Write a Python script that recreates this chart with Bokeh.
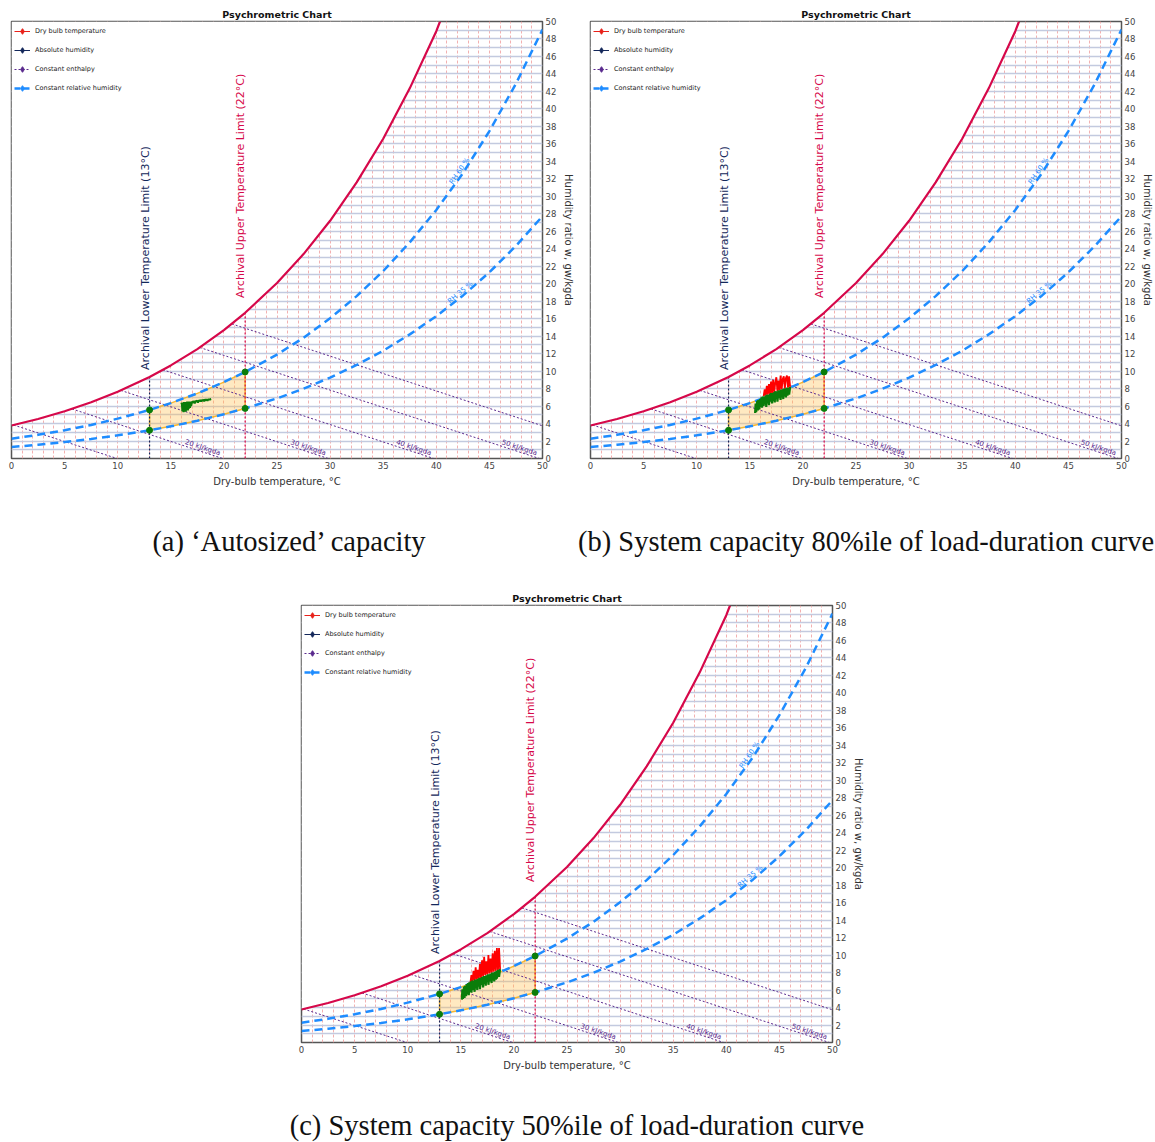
import math
import numpy as np
from bokeh.plotting import figure
from bokeh.models import (Range1d, SingleIntervalTicker, Legend, LegendItem,
                          ColumnDataSource, Div, Spacer)
from bokeh.layouts import column, row
from bokeh.embed import file_html
from bokeh.resources import INLINE
from bokeh.core.properties import value

# ---------------- data ----------------
SAT_T = [0, 2.5, 5, 7.5, 10, 13, 15, 17.5, 20, 22, 25, 27.5, 30, 32.5, 35, 37.5, 40, 40.35]
SAT_W = [3.77, 4.52, 5.40, 6.43, 7.63, 9.33, 10.65, 12.52, 14.70, 16.67, 20.08, 23.39,
         27.20, 31.59, 36.58, 42.35, 48.89, 50.0]

RH_T = [0, 2.5, 5, 7.5, 10, 13, 15, 17.5, 20, 22, 25, 27.5, 30, 32.5, 35, 37.5, 40,
        42.5, 45, 47.5, 50]
RH60_W = [2.26, 2.71, 3.23, 3.84, 4.56, 5.56, 6.34, 7.45, 8.74, 9.90, 11.89, 13.82,
          16.04, 18.58, 21.44, 24.73, 28.44, 32.63, 37.46, 42.89, 49.08]
RH35_W = [1.32, 1.57, 1.88, 2.24, 2.65, 3.23, 3.68, 4.32, 5.07, 5.73, 6.88, 7.99,
          9.26, 10.70, 12.33, 14.20, 16.29, 18.63, 21.31, 24.33, 27.72]

ENTH_H = [10, 20, 30, 40, 50, 60]
ENTH_T0 = [0.2, 5.7, 10.3, 14.25, 17.73, 20.75]
ENTH_W0 = [3.83, 5.67, 7.79, 10.15, 12.70, 15.40]
ENTH_T1 = [9.94, 19.88, 29.82, 39.76, 49.70, 50.0]
ENTH_W1 = [0, 0, 0, 0, 0, 3.74]
ENTH_LABELS = ["20 kJ/kgda", "30 kJ/kgda", "40 kJ/kgda", "50 kJ/kgda"]

LIMIT_LOW = 13
LIMIT_HIGH = 22

X_TICK_STEP = 5
Y_TICK_STEP = 2

# trace data
A_GREEN_T = [16.0, 16.05, 16.1, 16.15, 16.2, 16.25, 16.3, 16.35, 16.4, 16.45, 16.5, 16.55,
             16.6, 16.65, 16.7, 16.75, 16.8, 16.85, 16.9, 17.0, 17.1, 17.2, 17.25, 17.3,
             17.4, 17.5, 17.55, 17.6, 17.7, 17.8, 17.85, 17.9, 18.0, 18.1, 18.15, 18.2,
             18.3, 18.4, 18.45, 18.5, 18.6, 18.7, 18.8]
A_GREEN_W = [6.2, 6.35, 5.4, 6.4, 5.3, 6.45, 5.5, 6.4, 5.35, 6.45, 5.6, 6.5,
             5.5, 6.45, 5.7, 6.5, 5.8, 6.5, 6.0, 6.5, 6.45, 6.55, 6.3, 6.55,
             6.55, 6.6, 6.4, 6.6, 6.6, 6.65, 6.5, 6.65, 6.65, 6.7, 6.55, 6.7,
             6.7, 6.72, 6.6, 6.74, 6.75, 6.76, 6.8]

B_RED_T = [16.3, 16.4, 16.5, 16.6, 16.7, 16.8, 16.9, 17.0, 17.1, 17.2, 17.3, 17.4, 17.5,
           17.6, 17.7, 17.8, 17.9, 18.0, 18.1, 18.2, 18.3, 18.4, 18.5, 18.6, 18.7, 18.8]
B_RED_W = [7.1, 7.9, 7.2, 8.3, 7.3, 8.5, 7.4, 8.8, 7.5, 9.0, 7.6, 8.7, 9.3,
           7.7, 8.9, 7.8, 9.5, 7.9, 9.1, 9.4, 8.0, 9.2, 9.5, 8.1, 9.4, 8.2]
B_GREEN_T = [15.5, 15.55, 15.6, 15.7, 15.75, 15.8, 15.9, 15.95, 16.0, 16.1, 16.15, 16.2,
             16.3, 16.35, 16.4, 16.5, 16.55, 16.6, 16.7, 16.75, 16.8, 16.9, 16.95, 17.0,
             17.1, 17.15, 17.2, 17.3, 17.35, 17.4, 17.5, 17.55, 17.6, 17.7, 17.75, 17.8,
             17.9, 17.95, 18.0, 18.1, 18.15, 18.2, 18.3, 18.35, 18.4, 18.5, 18.55, 18.6,
             18.7, 18.8]
B_GREEN_W = [5.2, 6.3, 5.3, 6.6, 5.5, 6.7, 5.6, 6.8, 5.9, 7.0, 5.8, 7.1,
             6.0, 7.1, 6.2, 7.2, 5.9, 7.3, 6.3, 7.3, 6.1, 7.4, 6.5, 7.5,
             6.3, 7.5, 6.6, 7.6, 6.4, 7.7, 6.8, 7.7, 6.5, 7.8, 6.9, 7.8,
             6.7, 7.9, 7.0, 7.9, 6.8, 8.0, 7.1, 8.0, 7.0, 8.1, 7.2, 8.1,
             7.3, 8.2]

C_RED_T = [15.9, 16.0, 16.1, 16.2, 16.3, 16.4, 16.5, 16.6, 16.7, 16.8, 16.9, 17.0, 17.1,
           17.2, 17.3, 17.4, 17.5, 17.6, 17.7, 17.8, 17.9, 18.0, 18.1, 18.2, 18.3, 18.4,
           18.5, 18.6, 18.7]
C_RED_W = [6.8, 7.7, 6.9, 8.2, 7.1, 8.6, 7.2, 8.3, 7.3, 9.0, 7.4, 9.4, 7.6,
           9.8, 7.7, 9.3, 7.8, 10.0, 7.9, 9.6, 8.0, 10.2, 8.1, 10.5, 8.2, 10.8,
           8.3, 10.8, 8.4]
C_GREEN_T = [15.1, 15.15, 15.2, 15.3, 15.35, 15.4, 15.5, 15.55, 15.6, 15.7, 15.75, 15.8,
             15.9, 15.95, 16.0, 16.1, 16.15, 16.2, 16.3, 16.35, 16.4, 16.5, 16.55, 16.6,
             16.7, 16.75, 16.8, 16.9, 16.95, 17.0, 17.1, 17.15, 17.2, 17.3, 17.35, 17.4,
             17.5, 17.55, 17.6, 17.7, 17.75, 17.8, 17.9, 17.95, 18.0, 18.1, 18.15, 18.2,
             18.3, 18.35, 18.4, 18.5, 18.6, 18.7]
C_GREEN_W = [4.9, 6.1, 5.0, 6.4, 5.1, 6.5, 5.3, 6.7, 5.5, 6.8, 5.4, 6.9,
             5.8, 7.0, 5.7, 7.1, 6.0, 7.1, 5.8, 7.2, 6.2, 7.2, 6.0, 7.3,
             6.4, 7.4, 6.1, 7.4, 6.6, 7.5, 6.3, 7.6, 6.7, 7.6, 6.5, 7.7,
             6.9, 7.8, 6.6, 7.8, 7.0, 7.9, 6.8, 8.0, 7.1, 8.0, 7.0, 8.1,
             7.2, 8.2, 7.3, 8.3, 7.5, 8.4]

CAPTIONS = ["(a) \u2018Autosized\u2019 capacity",
            "(b) System capacity 80%ile of load-duration curve",
            "(c) System capacity 50%ile of load-duration curve"]

# ---------------- styling ----------------
FONT = "DejaVu Sans"
CRIMSON = "#d6084a"
BLUE = "#1e8cff"
NAVY = "#13275a"
PURPLE = "#5a2a8e"
FW, FH = 531, 437
PPX, PPY = FW / 50.0, FH / 50.0


def make_chart(red_t, red_w, green_t, green_w, left_border, right_border):
    p = figure(frame_width=FW, frame_height=FH, x_range=Range1d(0, 50), y_range=Range1d(0, 50),
               output_backend="svg", toolbar_location=None, y_axis_location="right",
               min_border_left=left_border, min_border_right=right_border, min_border_top=21,
               min_border_bottom=40, title="Psychrometric Chart")
    p.title.align = "center"
    p.title.text_font = FONT
    p.title.text_font_size = "9.5px"
    p.title.text_font_style = "bold"
    p.title.text_color = "#111111"
    p.title.standoff = 3
    p.outline_line_color = "#555555"
    p.outline_line_width = 1.5
    p.background_fill_color = "white"

    p.xaxis.ticker = SingleIntervalTicker(interval=X_TICK_STEP, num_minor_ticks=0)
    p.yaxis.ticker = SingleIntervalTicker(interval=Y_TICK_STEP, num_minor_ticks=0)
    for ax in (p.xaxis, p.yaxis):
        ax.axis_line_color = None
        ax.major_tick_in = 0
        ax.major_tick_out = 0
        ax.minor_tick_line_color = None
        ax.major_label_text_font = FONT
        ax.major_label_text_font_size = "8.5px"
        ax.major_label_text_color = "#444444"
        ax.major_label_standoff = 3
        ax.axis_label_text_font = FONT
        ax.axis_label_text_font_size = "10px"
        ax.axis_label_text_font_style = "normal"
        ax.axis_label_text_color = "#333333"
        ax.axis_label_standoff = 4
    p.xaxis.axis_label = "Dry-bulb temperature, \u00b0C"
    p.yaxis.axis_label = "Humidity ratio w, gw/kgda"

    p.xgrid.ticker = SingleIntervalTicker(interval=1, num_minor_ticks=0)
    p.ygrid.ticker = SingleIntervalTicker(interval=1, num_minor_ticks=0)
    p.xgrid.grid_line_color = "#f3b0b0"
    p.xgrid.grid_line_dash = "3 2"
    p.xgrid.grid_line_width = 1
    p.ygrid.grid_line_color = "#c3cadf"
    p.ygrid.grid_line_width = 1.3

    # mask grid above the saturation curve
    p.patch(SAT_T + [0], SAT_W + [50], fill_color="white", line_color=None)

    # comfort zone
    rt = np.array(RH_T)
    sel = (rt >= LIMIT_LOW) & (rt <= LIMIT_HIGH)
    zt = list(rt[sel]) + list(rt[sel][::-1])
    zw = list(np.array(RH60_W)[sel]) + list(np.array(RH35_W)[sel][::-1])
    p.patch(zt, zw, fill_color="#ffc04d", fill_alpha=0.35, line_color="#f5b020",
            line_width=1.5, line_alpha=0.9)

    # enthalpy lines
    p.segment(ENTH_T0, ENTH_W0, ENTH_T1, ENTH_W1, line_color=PURPLE, line_width=1,
              line_dash="2 2")
    for i, lab in enumerate(ENTH_LABELS):
        k = i + 1
        t0, w0, t1, w1 = ENTH_T0[k], ENTH_W0[k], ENTH_T1[k], ENTH_W1[k]
        tx = t1 - 2.0
        wy = w0 + (w1 - w0) * (tx - t0) / (t1 - t0)
        ang = math.atan2((w1 - w0) * PPY, (t1 - t0) * PPX)
        p.text([tx], [wy], text=[lab], angle=ang, text_align="center",
               text_baseline="bottom", text_font=value(FONT), text_font_size="7px",
               text_color=PURPLE)

    # limit lines
    sat_low = SAT_W[SAT_T.index(LIMIT_LOW)]
    sat_high = SAT_W[SAT_T.index(LIMIT_HIGH)]
    p.segment([LIMIT_LOW], [0], [LIMIT_LOW], [sat_low], line_color=NAVY, line_width=1.2,
              line_dash="2 2")
    p.segment([LIMIT_HIGH], [0], [LIMIT_HIGH], [sat_high], line_color=CRIMSON,
              line_width=1.2, line_dash="2 2")
    p.text([LIMIT_LOW - 0.4], [sat_low + 0.8], text=["Archival Lower Temperature Limit (13\u00b0C)"],
           angle=math.pi / 2, text_align="left", text_baseline="middle",
           text_font=value(FONT), text_font_size="11px", text_color=NAVY)
    p.text([LIMIT_HIGH - 0.45], [sat_high + 1.7],
           text=["Archival Upper Temperature Limit  (22\u00b0C)"],
           angle=math.pi / 2, text_align="left", text_baseline="middle",
           text_font=value(FONT), text_font_size="11px", text_color=CRIMSON)

    # relative humidity curves
    p.line(RH_T, RH60_W, line_color=BLUE, line_width=2.5, line_dash="8 5")
    p.line(RH_T, RH35_W, line_color=BLUE, line_width=2.5, line_dash="8 5")
    i60 = RH_T.index(42.5)
    a60 = math.atan2((RH60_W[i60 + 1] - RH60_W[i60 - 1]) * PPY, 5 * PPX)
    a35 = math.atan2((RH35_W[i60 + 1] - RH35_W[i60 - 1]) * PPY, 5 * PPX)
    p.text([42.5], [RH60_W[i60]], text=["RH 60 %"], angle=a60, text_align="center",
           text_baseline="bottom", text_font=value(FONT), text_font_size="7px", text_color=BLUE)
    p.text([42.5], [RH35_W[i60]], text=["RH 35 %"], angle=a35, text_align="center",
           text_baseline="bottom", text_font=value(FONT), text_font_size="7px", text_color=BLUE)

    # saturation curve
    p.line(SAT_T, SAT_W, line_color=CRIMSON, line_width=2.2)

    # traces
    if red_t:
        p.line(red_t, red_w, line_color="#ff0000", line_width=1.8)
    p.line(green_t, green_w, line_color="#0a7d0a", line_width=2.2)

    # zone corners
    ilo, ihi = RH_T.index(LIMIT_LOW), RH_T.index(LIMIT_HIGH)
    p.scatter([LIMIT_LOW, LIMIT_HIGH, LIMIT_LOW, LIMIT_HIGH],
              [RH60_W[ilo], RH60_W[ihi], RH35_W[ilo], RH35_W[ihi]],
              size=6, color="#0a7d0a")

    # legend (proxy renderers placed outside the visible range)
    items = []
    specs = [("Dry bulb temperature", "#e8211a", 1, "solid"),
             ("Absolute humidity", NAVY, 1, "solid"),
             ("Constant enthalpy", PURPLE, 1, "2 2"),
             ("Constant relative humidity", BLUE, 2.5, "6 3")]
    for lab, col, lw, dash in specs:
        src = ColumnDataSource(dict(x=[-100, -99], y=[-100, -100]))
        r1 = p.line("x", "y", source=src, line_color=col, line_width=lw, line_dash=dash)
        r2 = p.scatter("x", "y", source=src, marker="diamond", size=10, color=col)
        items.append(LegendItem(label=lab, renderers=[r1, r2]))
    leg = Legend(items=items, location="top_left", background_fill_alpha=0,
                 border_line_color=None, label_text_font=FONT, label_text_font_size="6.5px",
                 label_text_color="#222222", glyph_width=16, glyph_height=14, label_height=14,
                 spacing=5, padding=0, margin=3, label_standoff=5)
    p.add_layout(leg)
    return p


pa = make_chart([], [], A_GREEN_T, A_GREEN_W, 11, 45)
pb = make_chart(B_RED_T, B_RED_W, B_GREEN_T, B_GREEN_W, 3, 28)
pc = make_chart(C_RED_T, C_RED_W, C_GREEN_T, C_GREEN_W, 11, 28)

SPAN = ("position:absolute;top:28px;transform:translateX(-50%);white-space:nowrap;"
        "font-family:'Liberation Serif';font-size:28.5px;line-height:32px;color:#111;")
cap_ab = Div(text=('<div style="position:relative;width:1149px;height:86px;">'
                   f'<span style="{SPAN}left:289px;">{CAPTIONS[0]}</span>'
                   f'<span style="{SPAN}left:866px;">{CAPTIONS[1]}</span></div>'),
             width=1149, height=86, margin=0)
cap_c = Div(text=('<div style="position:relative;width:1149px;height:50px;">'
                  f'<span style="{SPAN}left:577px;">{CAPTIONS[2]}</span></div>'),
            width=1149, height=50, margin=0)

layout = column(row(pa, pb), cap_ab, row(Spacer(width=290, height=10), pc), cap_c)

with open("out.html", "w") as f:
    f.write(file_html(layout, INLINE))
